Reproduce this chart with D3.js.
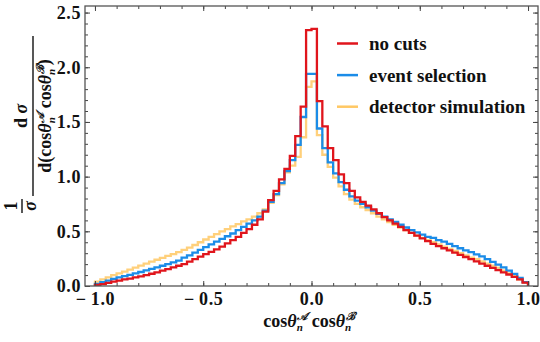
<!DOCTYPE html>
<html lang="en">
<head>
<meta charset="UTF-8"/>
<title>Histogram</title>
<script src="https://d3js.org/d3.v7.min.js"></script>
<style>
  body { margin: 0; background: #fff; }
  text { font-family: "Liberation Serif", "Times New Roman", "DejaVu Serif", serif; font-weight: bold; }
</style>
</head>
<body>
<svg id="chart" width="540" height="342"></svg>
<script>
// bin edges: 80 bins of width 0.025 from -1 to 1
var binLo = d3.range(80).map(function(i){ return -1 + i * 0.025; });

// left half listed from the edge (-1) towards 0, right half from 0 towards +1
var noCuts = [
  0.010,0.018,0.028,0.040,0.050,0.060,0.068,0.078,0.088,0.100,
  0.112,0.125,0.140,0.155,0.170,0.185,0.200,0.222,0.245,0.268,
  0.292,0.312,0.335,0.360,0.390,0.420,0.450,0.485,0.520,0.560,
  0.610,0.680,0.785,0.870,0.975,1.070,1.190,1.370,1.640,2.340,
  2.350,1.690,1.460,1.260,1.150,1.020,0.940,0.870,0.810,0.770,
  0.735,0.700,0.665,0.630,0.600,0.570,0.540,0.510,0.485,0.460,
  0.435,0.410,0.385,0.365,0.345,0.325,0.305,0.285,0.265,0.245,
  0.225,0.205,0.185,0.165,0.145,0.125,0.105,0.083,0.060,0.030
];
var eventSel = [
  0.020,0.035,0.050,0.065,0.078,0.090,0.102,0.115,0.128,0.142,
  0.156,0.170,0.185,0.200,0.216,0.232,0.260,0.280,0.305,0.330,
  0.355,0.380,0.405,0.430,0.455,0.480,0.510,0.540,0.570,0.600,
  0.635,0.690,0.770,0.840,0.940,1.050,1.150,1.290,1.545,1.940,
  1.940,1.440,1.260,1.130,1.030,0.950,0.880,0.820,0.780,0.750,
  0.720,0.690,0.660,0.635,0.610,0.585,0.560,0.535,0.510,0.490,
  0.470,0.450,0.440,0.420,0.405,0.385,0.365,0.345,0.325,0.310,
  0.290,0.270,0.245,0.220,0.195,0.170,0.140,0.110,0.075,0.035
];
var detSim = [
  0.040,0.060,0.078,0.100,0.115,0.132,0.150,0.168,0.186,0.205,
  0.222,0.240,0.258,0.275,0.292,0.310,0.330,0.350,0.375,0.400,
  0.425,0.450,0.475,0.500,0.520,0.545,0.565,0.590,0.610,0.635,
  0.665,0.700,0.760,0.830,0.930,1.040,1.100,1.180,1.360,1.820,
  1.870,1.380,1.200,1.090,0.990,0.910,0.840,0.790,0.750,0.720,
  0.695,0.665,0.635,0.610,0.585,0.560,0.535,0.510,0.485,0.460,
  0.440,0.420,0.400,0.380,0.360,0.340,0.320,0.300,0.280,0.260,
  0.245,0.225,0.205,0.185,0.165,0.140,0.115,0.090,0.060,0.030
];

var seriesNames = ["no cuts", "event selection", "detector simulation"];
var seriesColors = ["#e0151c", "#1b8ce8", "#ffc864"];

var xMajor = [-1, -0.5, 0, 0.5, 1];
var yMajor = [0, 0.5, 1, 1.5, 2, 2.5];

var svg = d3.select("#chart");
var L = 85, R = 538, T = 6, B = 286;

var x = d3.scaleLinear().domain([-1.046, 1.046]).range([L, R]);
var y = d3.scaleLinear().domain([0, 2.56]).range([B, T]);

svg.append("clipPath").attr("id", "clip")
  .append("rect").attr("x", L).attr("y", T).attr("width", R - L).attr("height", B - T);

function stepPoints(vals) {
  var pts = [[x(-1), y(0)]];
  vals.forEach(function(v, i){
    pts.push([x(binLo[i]), y(v)]);
    pts.push([x(binLo[i] + 0.025), y(v)]);
  });
  pts.push([x(1), y(0)]);
  return pts;
}

var line = d3.line();
var plot = svg.append("g").attr("clip-path", "url(#clip)");
var all = [noCuts, eventSel, detSim];
// draw detector simulation first, no cuts on top
[2, 1, 0].forEach(function(s){
  plot.append("path")
    .attr("d", line(stepPoints(all[s])))
    .attr("fill", "none")
    .attr("stroke", seriesColors[s])
    .attr("stroke-width", 2.3)
    .attr("stroke-opacity", s == 2 ? 0.85 : 1);
});

// frame + ticks
var minorX = d3.range(-10, 11).map(function(i){ return i / 10; });
var minorY = d3.range(0, 26).map(function(i){ return i / 10; });
function fmtX(d){ return d < 0 ? "\u2212\u2009" + d3.format(".1f")(-d) : d3.format(".1f")(d); }

function addAxis(axis, tr) {
  var g = svg.append("g").attr("transform", tr).call(axis);
  g.select(".domain").remove();
  g.selectAll("line").attr("stroke", "#444").attr("stroke-width", 1);
  g.selectAll("text").attr("fill", "#111").style("font-size", "18px")
    .style("letter-spacing", "0.6px")
    .style("font-family", '"Liberation Serif", "Times New Roman", serif').style("font-weight", "bold");
  return g;
}

addAxis(d3.axisBottom(x).tickValues(xMajor).tickSize(-5).tickPadding(6).tickFormat(fmtX), "translate(0," + B + ")");
addAxis(d3.axisBottom(x).tickValues(minorX).tickSize(-3).tickFormat(""), "translate(0," + B + ")");
addAxis(d3.axisTop(x).tickValues(xMajor).tickSize(-5).tickFormat(""), "translate(0," + T + ")");
addAxis(d3.axisTop(x).tickValues(minorX).tickSize(-3).tickFormat(""), "translate(0," + T + ")");
addAxis(d3.axisLeft(y).tickValues(yMajor).tickSize(-5).tickPadding(4).tickFormat(d3.format(".1f")), "translate(" + L + ",0)");
addAxis(d3.axisLeft(y).tickValues(minorY).tickSize(-3).tickFormat(""), "translate(" + L + ",0)");
addAxis(d3.axisRight(y).tickValues(yMajor).tickSize(-5).tickFormat(""), "translate(" + R + ",0)");
addAxis(d3.axisRight(y).tickValues(minorY).tickSize(-3).tickFormat(""), "translate(" + R + ",0)");

svg.append("rect").attr("x", L).attr("y", T).attr("width", R - L).attr("height", B - T)
  .attr("fill", "none").attr("stroke", "#555").attr("stroke-width", 1.3);

// legend
var leg = svg.append("g");
seriesNames.forEach(function(name, i){
  var ly = 43.5 + i * 31.6;
  leg.append("line").attr("x1", 337).attr("x2", 358).attr("y1", ly).attr("y2", ly)
    .attr("stroke", seriesColors[i]).attr("stroke-width", 2.5);
  leg.append("text").attr("x", 369).attr("y", ly + 6.5).style("font-size", "19px")
    .attr("fill", "#111").text(name);
});

// builds "cosθn^A cosθn^B" into a text element
function cosPair(t, big, small) {
  [["\ud835\udc9c", ""], ["\u212c", ""]].forEach(function(sup, k){
    t.append("tspan").attr("dy", k ? small * 0.6 : null).text(k ? " cos" : "cos");
    t.append("tspan").style("font-style", "italic").text("\u03b8");
    t.append("tspan").attr("dy", small * 0.35).style("font-size", small + "px").style("font-style", "italic").text("n");
    t.append("tspan").attr("dx", -small * 0.5).attr("dy", -small * 0.95).style("font-size", small + "px").style("font-style", "italic").text(sup[0]);
  });
}

// x label
var xl = svg.append("text").attr("x", 309).attr("y", 327).attr("text-anchor", "middle")
  .style("font-size", "18px").attr("fill", "#111");
cosPair(xl, 18, 11);

// y label (rotated fraction)
var yl = svg.append("g").attr("transform", "translate(33,116) rotate(-90)");
yl.append("line").attr("x1", -80).attr("x2", 80).attr("y1", 0).attr("y2", 0).attr("stroke", "#111").attr("stroke-width", 1.4);
var num = yl.append("text").attr("x", 0).attr("y", -6).attr("text-anchor", "middle").style("font-size", "18px").attr("fill", "#111");
num.append("tspan").text("d ");
num.append("tspan").style("font-style", "italic").text("\u03c3");
var den = yl.append("text").attr("x", 0).attr("y", 18).attr("text-anchor", "middle").style("font-size", "18px").attr("fill", "#111");
den.append("tspan").text("d(");
cosPair(den, 18, 11);
den.append("tspan").attr("dy", 6).text(")");

var sg = svg.append("g").attr("transform", "translate(22,206) rotate(-90)");
sg.append("line").attr("x1", -7).attr("x2", 7).attr("y1", 0).attr("y2", 0).attr("stroke", "#111").attr("stroke-width", 1.4);
sg.append("text").attr("x", 0).attr("y", -5).attr("text-anchor", "middle").style("font-size", "18px").attr("fill", "#111").text("1");
sg.append("text").attr("x", 0).attr("y", 14).attr("text-anchor", "middle").style("font-size", "18px").style("font-style", "italic").attr("fill", "#111").text("\u03c3");
</script>
</body>
</html>
